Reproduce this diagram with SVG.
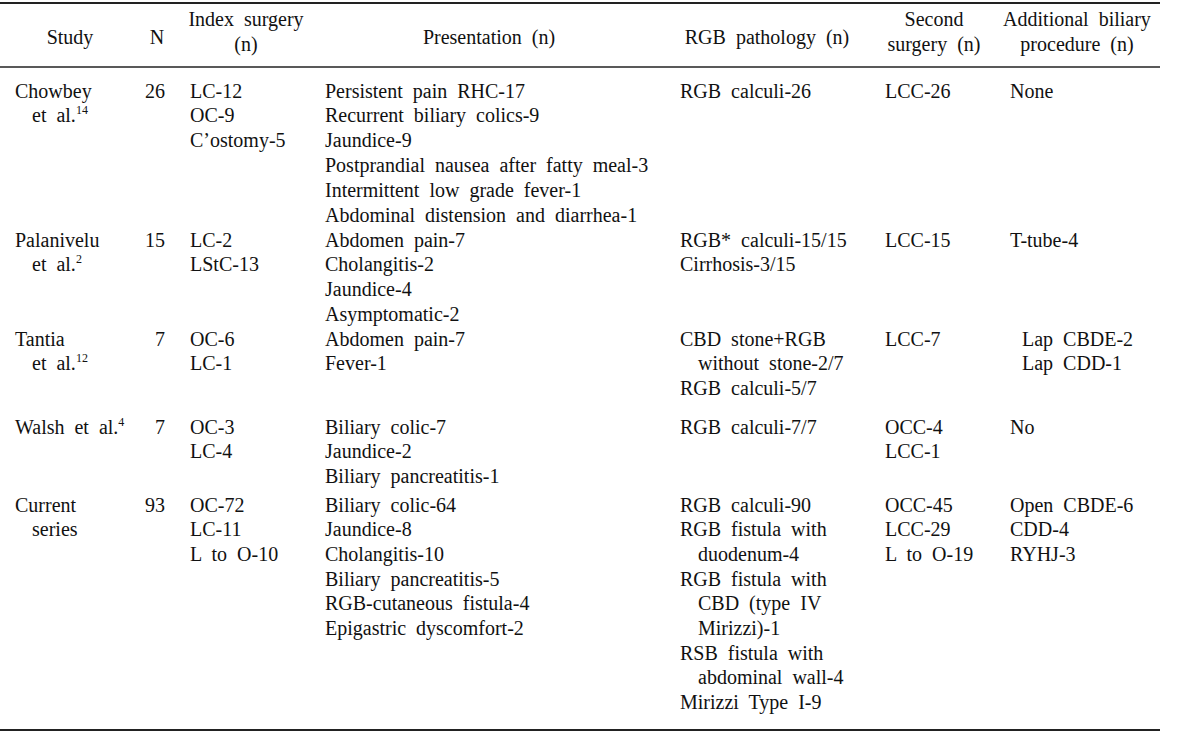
<svg xmlns="http://www.w3.org/2000/svg" width="1200" height="732" viewBox="0 0 1200 732">
<style>
text{font-family:"Liberation Serif","Times New Roman",serif;font-size:20px;fill:#111;word-spacing:5px}
.c{text-anchor:middle}
.e{text-anchor:end}
.s{font-size:12px}
line{stroke:#222}
</style>
<rect width="1200" height="732" fill="#fff"/>
<g id="rules">
<line x1="0" y1="3" x2="1160" y2="3" stroke-width="2"/>
<line x1="0" y1="67" x2="1160" y2="67" stroke-width="1.3"/>
<line x1="0" y1="730" x2="1160" y2="730" stroke-width="2"/>
</g>
<g id="header">
<text class="c" x="70" y="44">Study</text>
<text class="c" x="157" y="44">N</text>
<text class="c" x="246" y="26">Index surgery</text>
<text class="c" x="246" y="51">(n)</text>
<text class="c" x="489" y="44">Presentation (n)</text>
<text class="c" x="767" y="44">RGB pathology (n)</text>
<text class="c" x="934" y="26">Second</text>
<text class="c" x="934" y="51">surgery (n)</text>
<text class="c" x="1077" y="26">Additional biliary</text>
<text class="c" x="1077" y="51">procedure (n)</text>
</g>
<g id="row-chowbey">
<text x="15" y="98">Chowbey</text>
<text x="32" y="122">et al.<tspan class="s" dy="-8">14</tspan></text>
<text class="e" x="165" y="98">26</text>
<text x="190" y="98">LC-12</text><text x="190" y="122">OC-9</text><text x="190" y="147">C’ostomy-5</text>
<text x="325" y="98">Persistent pain RHC-17</text>
<text x="325" y="122">Recurrent biliary colics-9</text>
<text x="325" y="147">Jaundice-9</text>
<text x="325" y="172">Postprandial nausea after fatty meal-3</text>
<text x="325" y="197">Intermittent low grade fever-1</text>
<text x="325" y="222">Abdominal distension and diarrhea-1</text>
<text x="680" y="98">RGB calculi-26</text>
<text x="885" y="98">LCC-26</text>
<text x="1010" y="98">None</text>
</g>
<g id="row-palanivelu">
<text x="15" y="247">Palanivelu</text>
<text x="32" y="271">et al.<tspan class="s" dy="-8">2</tspan></text>
<text class="e" x="165" y="247">15</text>
<text x="190" y="247">LC-2</text><text x="190" y="271">LStC-13</text>
<text x="325" y="247">Abdomen pain-7</text>
<text x="325" y="271">Cholangitis-2</text>
<text x="325" y="296">Jaundice-4</text>
<text x="325" y="321">Asymptomatic-2</text>
<text x="680" y="247">RGB* calculi-15/15</text>
<text x="680" y="271">Cirrhosis-3/15</text>
<text x="885" y="247">LCC-15</text>
<text x="1010" y="247">T-tube-4</text>
</g>
<g id="row-tantia">
<text x="15" y="346">Tantia</text>
<text x="32" y="370">et al.<tspan class="s" dy="-8">12</tspan></text>
<text class="e" x="165" y="346">7</text>
<text x="190" y="346">OC-6</text><text x="190" y="370">LC-1</text>
<text x="325" y="346">Abdomen pain-7</text>
<text x="325" y="370">Fever-1</text>
<text x="680" y="346">CBD stone+RGB</text>
<text x="698" y="370">without stone-2/7</text>
<text x="680" y="395">RGB calculi-5/7</text>
<text x="885" y="346">LCC-7</text>
<text x="1022" y="346">Lap CBDE-2</text>
<text x="1022" y="370">Lap CDD-1</text>
</g>
<g id="row-walsh">
<text x="15" y="434">Walsh et al.<tspan class="s" dy="-8">4</tspan></text>
<text class="e" x="165" y="434">7</text>
<text x="190" y="434">OC-3</text><text x="190" y="458">LC-4</text>
<text x="325" y="434">Biliary colic-7</text>
<text x="325" y="458">Jaundice-2</text>
<text x="325" y="483">Biliary pancreatitis-1</text>
<text x="680" y="434">RGB calculi-7/7</text>
<text x="885" y="434">OCC-4</text><text x="885" y="458">LCC-1</text>
<text x="1010" y="434">No</text>
</g>
<g id="row-current">
<text x="15" y="512">Current</text>
<text x="32" y="536">series</text>
<text class="e" x="165" y="512">93</text>
<text x="190" y="512">OC-72</text><text x="190" y="536">LC-11</text><text x="190" y="561">L to O-10</text>
<text x="325" y="512">Biliary colic-64</text>
<text x="325" y="536">Jaundice-8</text>
<text x="325" y="561">Cholangitis-10</text>
<text x="325" y="586">Biliary pancreatitis-5</text>
<text x="325" y="610">RGB-cutaneous fistula-4</text>
<text x="325" y="635">Epigastric dyscomfort-2</text>
<text x="680" y="512">RGB calculi-90</text>
<text x="680" y="536">RGB fistula with</text>
<text x="698" y="561">duodenum-4</text>
<text x="680" y="586">RGB fistula with</text>
<text x="698" y="610">CBD (type IV</text>
<text x="698" y="635">Mirizzi)-1</text>
<text x="680" y="660">RSB fistula with</text>
<text x="698" y="684">abdominal wall-4</text>
<text x="680" y="709">Mirizzi Type I-9</text>
<text x="885" y="512">OCC-45</text><text x="885" y="536">LCC-29</text><text x="885" y="561">L to O-19</text>
<text x="1010" y="512">Open CBDE-6</text><text x="1010" y="536">CDD-4</text><text x="1010" y="561">RYHJ-3</text>
</g>
</svg>
